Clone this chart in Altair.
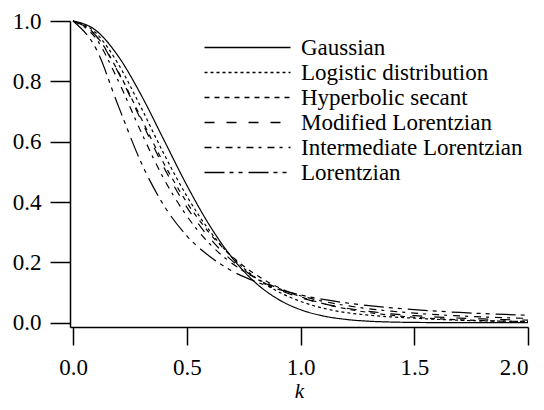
import altair as alt
import pandas as pd

k = [0.0, 0.1, 0.2, 0.3, 0.4, 0.5, 0.6, 0.7, 0.8, 0.9, 1.0,
     1.1, 1.2, 1.3, 1.4, 1.5, 1.6, 1.7, 1.8, 1.9, 2.0]

gaussian = [1.0, 0.969, 0.882, 0.754, 0.605, 0.456, 0.323, 0.215, 0.134, 0.0785, 0.0432,
            0.0223, 0.0108, 0.0049, 0.0021, 0.0009, 0.0003, 0.0001, 0.0, 0.0, 0.0]
logistic = [1.0, 0.961, 0.856, 0.712, 0.559, 0.420, 0.305, 0.216, 0.1505, 0.1036, 0.0707,
            0.0480, 0.0335, 0.025, 0.019, 0.015, 0.011, 0.008, 0.006, 0.005, 0.004]
hyperbolic = [1.0, 0.953, 0.831, 0.677, 0.527, 0.399, 0.297, 0.219, 0.161, 0.118, 0.0863,
              0.0631, 0.0461, 0.0337, 0.0246, 0.0180, 0.0131, 0.0096, 0.0070, 0.0051, 0.0037]
modified = [1.0, 0.952, 0.828, 0.670, 0.514, 0.383, 0.281, 0.205, 0.150, 0.111, 0.0832,
            0.0630, 0.0483, 0.0374, 0.0294, 0.0233, 0.0187, 0.0151, 0.0124, 0.0102, 0.0085]
intermediate = [1.0, 0.943, 0.800, 0.631, 0.476, 0.354, 0.262, 0.196, 0.149, 0.115, 0.0894,
                0.0709, 0.0569, 0.0463, 0.0380, 0.0316, 0.0265, 0.0225, 0.0192, 0.0165, 0.0143]
lorentzian = [1.0, 0.910, 0.717, 0.530, 0.388, 0.288, 0.220, 0.171, 0.137, 0.111, 0.0920,
              0.0773, 0.0657, 0.0566, 0.0492, 0.0431, 0.0381, 0.0339, 0.0303, 0.0273, 0.0247]

names = ["Gaussian", "Logistic distribution", "Hyperbolic secant",
         "Modified Lorentzian", "Intermediate Lorentzian", "Lorentzian"]
series = [gaussian, logistic, hyperbolic, modified, intermediate, lorentzian]
dashes = [[1, 0], [3, 3], [5, 5], [10, 12], [7, 5, 3, 6], [20, 5, 4, 5, 4, 6]]

rows = []
for name, vals in zip(names, series):
    for kk, v in zip(k, vals):
        rows.append({"k": kk, "value": v, "shape": name})
df = pd.DataFrame(rows)

FONT = "Liberation Serif"

chart = alt.Chart(df).mark_line(
    color="black", strokeWidth=1.2, interpolate="monotone"
).encode(
    x=alt.X("k:Q",
            scale=alt.Scale(domain=[-0.0132, 2.0], nice=False, zero=False),
            axis=alt.Axis(values=[0, 0.5, 1.0, 1.5, 2.0], format=".1f",
                          title="k", titleFontStyle="italic", titleFontWeight="normal",
                          titleFontSize=21, titlePadding=1,
                          tickSize=18, labelPadding=11)),
    y=alt.Y("value:Q",
            scale=alt.Scale(domain=[-0.0143, 1.0], nice=False, zero=False),
            axis=alt.Axis(values=[0, 0.2, 0.4, 0.6, 0.8, 1.0], format=".1f",
                          title=None, tickSize=20, labelPadding=9)),
    strokeDash=alt.StrokeDash(
        "shape:N",
        scale=alt.Scale(domain=names, range=dashes),
        legend=alt.Legend(title=None, orient="none", legendX=166, legendY=15,
                          symbolType="M-4.3,0H4.3", symbolSize=400,
                          symbolStrokeWidth=1.3, symbolStrokeColor="black",
                          labelFontSize=23, labelFont=FONT, labelColor="black",
                          labelOffset=42, rowPadding=1, padding=0,
                          labelLimit=400)),
    detail="shape:N",
).properties(
    width=458, height=306,
    autosize=alt.AutoSizeParams(type="none"),
    padding={"left": 62, "top": 13, "right": 8, "bottom": 75},
).configure_view(
    stroke=None
).configure_axis(
    grid=False, domainColor="black", domainWidth=1.5, tickColor="black",
    tickWidth=1.5, labelFont=FONT, labelFontSize=23, labelColor="black",
    titleFont=FONT, titleColor="black",
)

chart.save("out.html", embed_options={"renderer": "svg", "actions": False})
